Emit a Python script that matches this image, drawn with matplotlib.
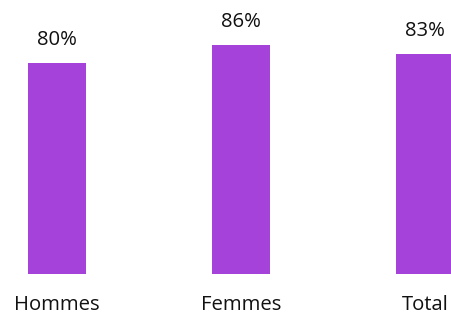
import matplotlib
matplotlib.use("Agg")
import matplotlib.pyplot as plt

categories = ["Hommes", "Femmes", "Total"]
values = [80, 86, 83]
labels = ["80%", "86%", "83%"]

W, H, DPI = 452, 312, 100
fig = plt.figure(figsize=(W / DPI, H / DPI), dpi=DPI)
ax_bottom_px = 274
ax = fig.add_axes([0, (H - ax_bottom_px) / H, 1, ax_bottom_px / H])

x = list(range(len(categories)))
ax.bar(x, values, width=58 / 184, color="#A542D9")
ax.set_xlim(-57 / 184, 2 + (W - 425) / 184)
ax.set_ylim(80 - (ax_bottom_px - 63) / 3, 80 + 63 / 3)
ax.axis("off")

font = "Open Sans"
for xi, v, lab in zip(x, values, labels):
    ax.annotate(lab, xy=(xi, v), xytext=(0, 18), textcoords="offset pixels",
                ha="center", va="baseline", fontsize=14.6, family=font,
                color="#111111")
for xi, cat in zip(x, categories):
    ax.annotate(cat, xy=(xi, 0), xycoords=("data", "axes fraction"),
                xytext=(0, -36), textcoords="offset pixels",
                ha="center", va="baseline", fontsize=14.6, family=font,
                color="#111111", annotation_clip=False)

fig.savefig("out.png", dpi=DPI)
